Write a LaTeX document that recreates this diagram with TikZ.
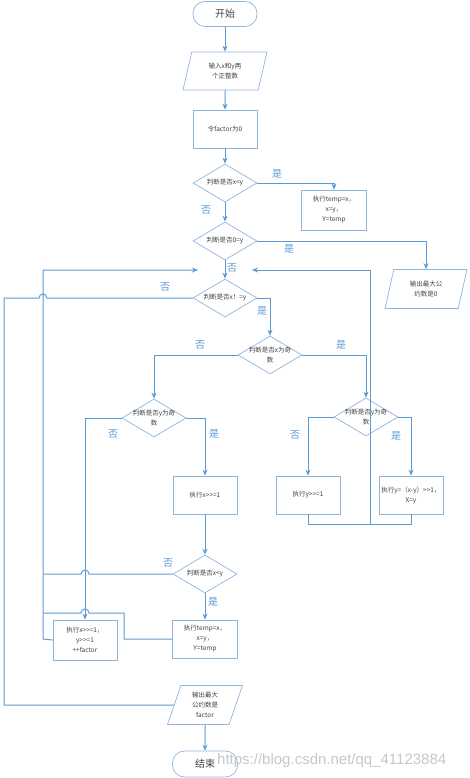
\documentclass[tikz,border=0pt]{standalone}
\usepackage{fontspec}
\setmainfont{Noto Sans CJK SC}
\newfontfamily\wmfont{Liberation Sans}
\usetikzlibrary{shapes.geometric,arrows.meta}
\definecolor{ln}{HTML}{5B9BD5}
\definecolor{bd}{HTML}{8FB4DE}
\definecolor{tx}{HTML}{404040}
\newcommand\shr{>\kern0pt>}
\tikzset{
 base/.style={draw=bd, line width=0.7pt, text=tx, font=\fontsize{6.5}{10}\selectfont, align=center, inner sep=1pt},
 term/.style={base, rectangle, rounded corners=12pt, minimum width=64pt, minimum height=25pt, font=\fontsize{10}{12}\selectfont},
 proc/.style={base, rectangle, minimum width=64pt, minimum height=38pt},
 io/.style={base, trapezium, trapezium left angle=64, trapezium right angle=116, minimum height=38pt, trapezium stretches body},
 dec/.style={base, diamond, minimum width=64pt, minimum height=38pt},
 dtext/.style={text=tx, font=\fontsize{6.5}{10}\selectfont, align=center, inner sep=0pt},
 conn/.style={draw=ln, line width=1pt},
 arr/.style={conn, -{Stealth[length=6pt,width=5pt]}},
 yn/.style={text=ln, font=\fontsize{10}{12}\selectfont, inner sep=0pt},
}
\begin{document}
\begin{tikzpicture}[x=1pt,y=-1pt]
\useasboundingbox (0,0) rectangle (470,778);
% shapes
\node[term] (start) at (225,14) {开始};
\node[io, minimum width=84pt] (in) at (225,71) {输入x和y两\\个正整数};
\node[proc] (init) at (225,129) {令factor为0};
\node[dec, label={[dtext]center:判断是否x<y}] (d1) at (225,183) {};
\node[proc, minimum width=65pt, minimum height=40pt] (swap1) at (334,210) {执行temp=x，\\x=y，\\Y=temp};
\node[dec, label={[dtext]center:判断是否0=y}] (d2) at (225,241) {};
\node[io, minimum width=82pt, minimum height=39pt] (out0) at (426,289) {输出最大公\\约数是0};
\node[dec, label={[dtext]center:判断是否x！=y}] (d3) at (225,298) {};
\node[dec, label={[dtext]center:判断是否x为奇\\数}] (d4) at (270,355) {};
\node[dec, label={[dtext]center:判断是否y为奇\\数}] (d5) at (154,418) {};
\node[dec, label={[dtext]center:判断是否y为奇\\数}] (d6) at (366,417) {};
\node[proc] (bx) at (205,495) {执行x\shr=1};
\node[proc] (by) at (308,495) {执行y\shr=1};
\node[proc] (bxy) at (411,495) {执行y=（x-y）\shr1，\\X=y};
\node[dec, label={[dtext]center:判断是否x<y}] (d7) at (205,574) {};
\node[proc, minimum width=65pt] (swap2) at (205,639) {执行temp=x，\\x=y，\\Y=temp};
\node[proc, minimum height=40pt] (bxyf) at (85,640) {执行x\shr=1，\\y\shr=1\\++factor};
\node[io, minimum width=75pt, minimum height=39pt] (outf) at (205,705) {输出最大\\公约数是\\factor};
\node[term, minimum width=65pt, minimum height=26pt] (end) at (205,764) {结束};
% free ends
\coordinate (retL) at (198,270);
\coordinate (retR) at (252,270);
\coordinate (jr) at (370,524);
% connectors
\draw[arr] (start) -- (in);
\draw[arr] (in) -- (init);
\draw[arr] (init) -- (d1);
\draw[arr] (d1.east) -| (swap1.north);
\draw[arr] (d1.south) -- (d2.north);
\draw[arr] (d2.east) -| (out0.north);
\draw[arr] (d2.south) -- (d3.north);
\draw[arr] (d3.east) -| (d4.north);
\draw[conn] (d3.west) -- (47,298) arc[start angle=0, end angle=-180, radius=4] -- (4,298) |- (outf.west);
\draw[arr] (d4.west) -| (d5.north);
\draw[arr] (d4.east) -| (d6.north);
\draw[arr] (d5.west) -| (bxyf.north);
\draw[arr] (d5.east) -| (bx.north);
\draw[arr] (d6.west) -| (by.north);
\draw[arr] (d6.east) -| (bxy.north);
\draw[conn] (by.south) -- (by.south |- jr) -- (bxy.south |- jr) -- (bxy.south);
\draw[arr] (jr) -- (jr |- retR) -- (retR);
\draw[arr] (bx.south) -- (d7.north);
\draw[arr] (d7.south) -- (swap2.north);
\draw[conn] (d7.west) -- (89,574) arc[start angle=0, end angle=-180, radius=4] -- (43,574);
\draw[conn] (swap2.west) -- (124,639) -- (124,613) -- (89,613) arc[start angle=0, end angle=-180, radius=4] -- (43,613);
\draw[arr] (bxyf.west) -- (43,639) -- (43,270) -- (retL);
\draw[arr] (outf.south) -- (end.north);
% yes/no labels
\node[yn] (l1) at (277,174) {是};
\node[yn] (l2) at (206,210) {否};
\node[yn] (l3) at (289,249) {是};
\node[yn] (l4) at (232,268) {否};
\node[yn] (l5) at (165,287) {否};
\node[yn] (l6) at (262,311) {是};
\node[yn] (l7) at (200,345) {否};
\node[yn] (l8) at (341,345) {是};
\node[yn] (l9) at (113,434) {否};
\node[yn] (l10) at (214,434) {是};
\node[yn] (l11) at (295,435) {否};
\node[yn] (l12) at (396,436) {是};
\node[yn] (l13) at (168,563) {否};
\node[yn] (l14) at (213,602) {是};
% watermark
\node[text=black!22, font=\wmfont\fontsize{15}{15}\selectfont, anchor=west, inner sep=0pt] (wm) at (217,761) {https://blog.csdn.net/qq\_41123884};
\end{tikzpicture}
\end{document}
